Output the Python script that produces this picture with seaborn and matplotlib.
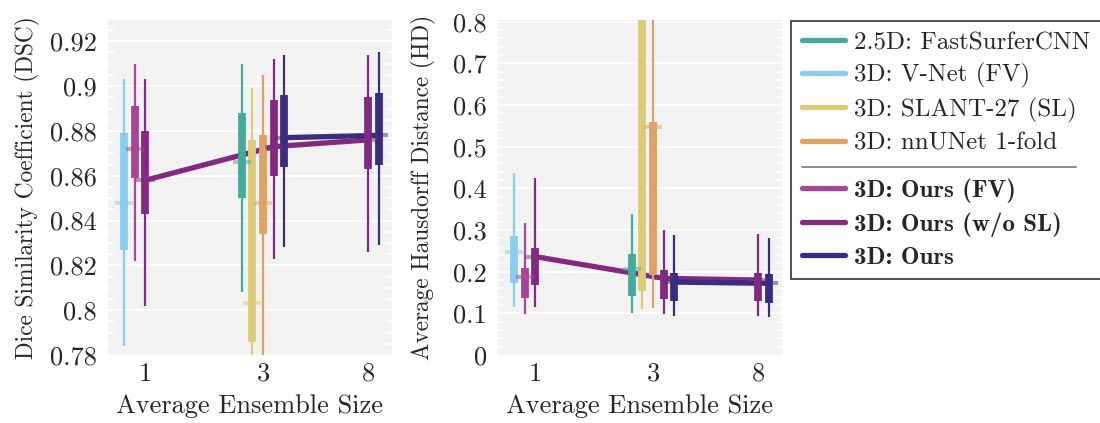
import numpy as np
import pandas as pd
import seaborn as sns
import matplotlib.pyplot as plt
from matplotlib.lines import Line2D
from matplotlib.offsetbox import DrawingArea
from matplotlib.ticker import FixedLocator, MultipleLocator, NullFormatter

# series shown in the legend, in order
series = ["2.5D: FastSurferCNN", "3D: V-Net (FV)", "3D: SLANT-27 (SL)", "3D: nnUNet 1-fold",
          "3D: Ours (FV)", "3D: Ours (w/o SL)", "3D: Ours"]
colors = ["#44AA99", "#88CCEE", "#DDCC77", "#DFA265", "#AA4499", "#822A7F", "#3A2C7E"]
bold_series = ["3D: Ours (FV)", "3D: Ours (w/o SL)", "3D: Ours"]
line_series = ["3D: Ours (w/o SL)", "3D: Ours"]

ensemble_sizes = [1, 3, 8]

# one entry per box
box_series = ["3D: V-Net (FV)", "3D: Ours (FV)", "3D: Ours (w/o SL)",
              "2.5D: FastSurferCNN", "3D: SLANT-27 (SL)", "3D: nnUNet 1-fold",
              "3D: Ours (w/o SL)", "3D: Ours",
              "3D: Ours (w/o SL)", "3D: Ours"]
box_size = [1, 1, 1, 3, 3, 3, 3, 3, 8, 8]

# Dice similarity coefficient
dsc_lo = [0.784, 0.822, 0.802, 0.808, 0.760, 0.765, 0.823, 0.828, 0.826, 0.829]
dsc_q1 = [0.827, 0.859, 0.843, 0.850, 0.786, 0.834, 0.860, 0.864, 0.863, 0.865]
dsc_med = [0.848, 0.872, 0.858, 0.866, 0.803, 0.848, 0.873, 0.877, 0.876, 0.878]
dsc_q3 = [0.879, 0.891, 0.880, 0.888, 0.876, 0.878, 0.894, 0.896, 0.895, 0.897]
dsc_hi = [0.903, 0.910, 0.903, 0.910, 0.899, 0.905, 0.912, 0.914, 0.914, 0.915]

# average Hausdorff distance
hd_lo = [0.116, 0.098, 0.116, 0.100, 0.110, 0.112, 0.098, 0.094, 0.094, 0.092]
hd_q1 = [0.172, 0.138, 0.168, 0.142, 0.154, 0.192, 0.134, 0.130, 0.130, 0.126]
hd_med = [0.248, 0.188, 0.236, 0.206, 0.950, 0.546, 0.184, 0.175, 0.180, 0.172]
hd_q3 = [0.286, 0.210, 0.256, 0.242, 1.200, 0.560, 0.204, 0.196, 0.198, 0.194]
hd_hi = [0.436, 0.316, 0.426, 0.338, 1.800, 1.500, 0.300, 0.288, 0.290, 0.280]

# layout: dodge slot of each box around its ensemble size (log axis)
box_slot = [-2, -1, 0, -2, -1, 0, 1, 2, 0, 1]
slot_step = 0.1

palette = dict(zip(series, colors))
box_x = [s * np.exp(slot_step * k) for s, k in zip(box_size, box_slot)]

sns.set_theme(style="white", rc={"axes.facecolor": "#F2F2F2"})
plt.rcParams["font.family"] = ["cmr10", "DejaVu Serif"]
plt.rcParams["axes.formatter.use_mathtext"] = True
plt.rcParams["mathtext.fontset"] = "cm"

TICK_FS = 19
XLABEL_FS = 19
YLABEL_FS = 16.8
LEGEND_FS = 18


def draw_panel(ax, lo, q1, med, q3, hi, ylim, major, minor, labels, ylabel, ypad):
    df = pd.DataFrame({"series": box_series, "x": box_x, "lo": lo, "q1": q1,
                       "med": med, "q3": q3, "hi": hi})
    for spine in ax.spines.values():
        spine.set_visible(False)
    ax.set_xscale("log")
    ax.set_xlim(0.705, 10.0)
    ax.set_ylim(*ylim)
    ax.yaxis.set_major_locator(FixedLocator(major))
    ax.set_yticklabels(labels)
    ax.yaxis.set_minor_locator(MultipleLocator(minor))
    ax.yaxis.set_minor_formatter(NullFormatter())
    ax.grid(axis="y", which="major", color="white", lw=1.3, zorder=0)
    ax.set_axisbelow(True)
    ax.tick_params(axis="y", which="both", direction="in", color="white",
                   left=True, right=True, width=1.3, pad=8, labelsize=TICK_FS)
    ax.tick_params(axis="y", which="minor", length=4)
    ax.tick_params(axis="y", which="major", length=0)

    # median lines of our models
    sub = df[df["series"].isin(line_series)]
    sns.lineplot(data=sub, x="x", y="med", hue="series", palette=palette,
                 lw=3.8, legend=False, ax=ax, zorder=2, sort=True)

    for _, r in df.iterrows():
        c = palette[r["series"]]
        ax.vlines(r["x"], r["lo"], r["hi"], color=c, lw=1.6, capstyle="butt", zorder=3)
        ax.vlines(r["x"], r["q1"], r["q3"], color=c, lw=5.6, capstyle="butt", zorder=3)
        ax.hlines(r["med"], r["x"] * np.exp(-0.085), r["x"] * np.exp(0.085),
                  color=c, lw=2.9, alpha=0.5, zorder=4)

    ax.xaxis.set_major_locator(FixedLocator(ensemble_sizes))
    ax.xaxis.set_minor_locator(FixedLocator([]))
    ax.set_xticklabels([str(s) for s in ensemble_sizes])
    ax.tick_params(axis="x", which="both", length=0, pad=5, labelsize=TICK_FS)
    ax.set_xlabel("Average Ensemble Size", fontsize=XLABEL_FS, labelpad=6)
    ax.set_ylabel(ylabel, fontsize=YLABEL_FS, labelpad=ypad)


fig = plt.figure(figsize=(11, 4.23), dpi=100)
ax1 = fig.add_axes([108 / 1100, 68 / 423, 284 / 1100, 335 / 423])
ax2 = fig.add_axes([498 / 1100, 68 / 423, 284 / 1100, 335 / 423])

draw_panel(ax1, dsc_lo, dsc_q1, dsc_med, dsc_q3, dsc_hi, (0.78, 0.9295),
           [0.78, 0.80, 0.82, 0.84, 0.86, 0.88, 0.90, 0.92], 0.005,
           ["0.78", "0.8", "0.82", "0.84", "0.86", "0.88", "0.9", "0.92"],
           "Dice Similarity Coefficient (DSC)", 7)
draw_panel(ax2, hd_lo, hd_q1, hd_med, hd_q3, hd_hi, (0.0, 0.804),
           [0, 0.1, 0.2, 0.3, 0.4, 0.5, 0.6, 0.7, 0.8], 0.02,
           ["0", "0.1", "0.2", "0.3", "0.4", "0.5", "0.6", "0.7", "0.8"],
           "Average Hausdorff Distance (HD)", 12)

# legend with a separator row between baselines and our models
handles = [Line2D([], [], color=palette[s], lw=3.8) for s in series[:4]]
handles.append(Line2D([], [], color="none"))
handles += [Line2D([], [], color=palette[s], lw=3.8) for s in series[4:]]
labels = series[:4] + [" "] + series[4:]
leg = fig.legend(handles, labels, loc="upper left", bbox_to_anchor=(791 / 1100, 1 - 21 / 423),
                 fontsize=LEGEND_FS, frameon=True, fancybox=False, edgecolor="#333333",
                 facecolor="white", framealpha=1.0,
                 handlelength=1.75, handletextpad=0.35, borderpad=0.42,
                 labelspacing=0.37, borderaxespad=0)
leg.get_frame().set_linewidth(1.2)
texts = leg.get_texts()
for t in texts:
    if t.get_text() in bold_series:
        t.set_fontfamily(["cmb10", "DejaVu Serif"])

# make the separator row thin
sep_text = texts[4]
sep_text.set_fontsize(5)
for row in leg._legend_handle_box.get_children()[0].get_children():
    kids = row.get_children()
    if any(k is sep_text for k in kids[1].get_children()) if hasattr(kids[1], "get_children") else False:
        for k in kids:
            if isinstance(k, DrawingArea):
                k.height = 0
                k.ydescent = 0

fig.canvas.draw()
renderer = fig.canvas.get_renderer()
frame = leg.get_frame().get_window_extent(renderer)
b_top = texts[3].get_window_extent(renderer)
b_bot = texts[5].get_window_extent(renderer)
y_sep = (b_top.y0 + b_bot.y1) / 2
inv = fig.transFigure.inverted()
(x0, ys), (x1, _) = inv.transform([(frame.x0 + 11, y_sep), (frame.x1 - 25, y_sep)])
fig.add_artist(Line2D([x0, x1], [ys, ys], color="#777777", lw=1.2,
                      transform=fig.transFigure, zorder=10))

fig.savefig("out.png", dpi=100)
